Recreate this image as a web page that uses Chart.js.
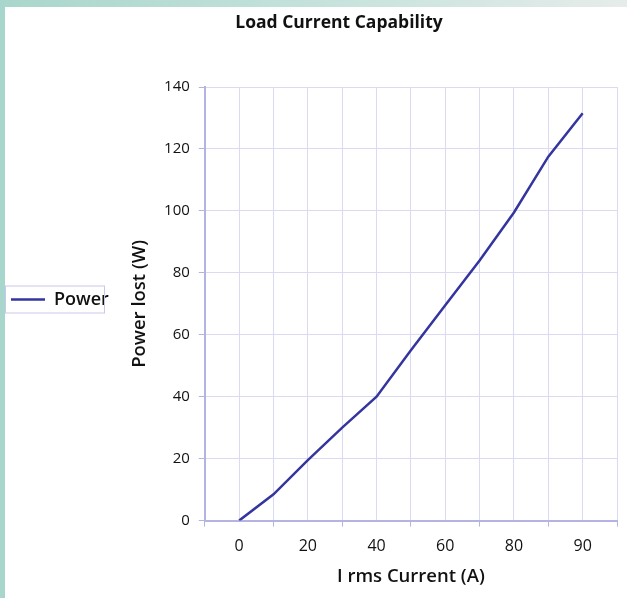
<!DOCTYPE html>
<html>
<head>
<meta charset="utf-8">
<script src="https://cdn.jsdelivr.net/npm/chart.js@4.4.0/dist/chart.umd.min.js"></script>
<style>
  body { margin: 0; background: #fff; }
  #page { position: relative; width: 627px; height: 598px; overflow: hidden; background: #fff; }
  #topStrip { position: absolute; left: 0; top: 0; width: 627px; height: 7px;
    background: linear-gradient(to right, #a9d6cc 0%, #c4e2db 50%, #e6ecea 100%); }
  #leftStrip { position: absolute; left: 0; top: 0; width: 5px; height: 598px; background: #a9d6cc; }
  #wrap { position: absolute; left: 5px; top: 7px; width: 622px; height: 591px; }
</style>
</head>
<body>
<div id="page">
  <div id="topStrip"></div>
  <div id="leftStrip"></div>
  <div id="wrap"><canvas id="lossChart"></canvas></div>
</div>
<script>
// categories (I rms, A) and power lost (W)
const currents = [0, 10, 20, 30, 40, 50, 60, 70, 80, 85, 90];
const powerLost = [0, 8.5, 19.5, 30, 40, 55, 69.5, 84, 99.5, 117.5, 131.5];
const yTicks = [0, 20, 40, 60, 80, 100, 120, 140];

// only every second category gets a label
const tickLabels = currents.filter((c, i) => i % 2 === 0);

const gridCol = '#dadaf2';
const axisCol = '#b4b4e2';
const lineCol = '#3535a0';
const font = '"Open Sans", "DejaVu Sans", sans-serif';

const points = powerLost.map((p, i) => ({ x: i, y: p }));

// the original title is a bit right of the page centre
const titleShift = {
  id: 'titleShift',
  afterLayout(chart) {
    const t = chart.titleBlock;
    if (t) { t.left += 26; t.right += 26; }
  }
};

const legendBox = {
  id: 'legendBox',
  afterDraw(chart) {
    const lg = chart.legend;
    if (!lg || !lg.legendHitBoxes.length) return;
    const hb = lg.legendHitBoxes[0];
    const ctx = chart.ctx;
    ctx.save();
    ctx.strokeStyle = '#c8c8ea';
    ctx.lineWidth = 1;
    ctx.strokeRect(0.5, hb.top - 4.5, 99, hb.height + 9);
    ctx.restore();
  }
};

new Chart(document.getElementById('lossChart'), {
  type: 'line',
  data: {
    datasets: [{
      label: 'Power',
      data: points,
      borderColor: lineCol,
      backgroundColor: lineCol,
      borderWidth: 2.5,
      pointRadius: 0,
      tension: 0
    }]
  },
  options: {
    responsive: true,
    maintainAspectRatio: false,
    animation: false,
    layout: { padding: { top: 0, right: 6, bottom: 6, left: 0 } },
    plugins: {
      title: {
        display: true,
        text: 'Load Current Capability',
        color: '#111',
        font: { family: font, size: 17.5, weight: 'bold' },
        padding: { top: 6, bottom: 53 }
      },
      legend: {
        position: 'left',
        labels: {
          usePointStyle: true,
          pointStyle: 'line',
          pointStyleWidth: 34,
          color: '#111',
          font: { family: font, size: 18, weight: '600' },
          padding: 6
        }
      },
      tooltip: { enabled: false }
    },
    scales: {
      x: {
        type: 'linear',
        min: -1,
        max: currents.length,
        ticks: {
          stepSize: 1,
          autoSkip: false,
          color: '#111',
          font: { family: font, size: 16 },
          padding: 10,
          callback: v => (v >= 0 && v % 2 === 0) ? tickLabels[v / 2] : ''
        },
        grid: {
          color: gridCol,
          tickLength: 6,
          tickColor: c => (Math.abs(c.tick.value) % 2 === 1) ? axisCol : 'rgba(0,0,0,0)'
        },
        border: { color: axisCol, width: 2 },
        title: {
          display: true,
          text: 'I rms Current (A)',
          color: '#111',
          font: { family: font, size: 18.5, weight: '600' },
          padding: { top: 0 }
        }
      },
      y: {
        min: yTicks[0],
        max: yTicks[yTicks.length - 1],
        afterBuildTicks: s => { s.ticks = yTicks.map(v => ({ value: v })); },
        ticks: {
          color: '#111',
          font: { family: font, size: 15 },
          padding: 9
        },
        grid: { color: gridCol, tickLength: 6, tickColor: axisCol },
        border: { color: axisCol, width: 2 },
        title: {
          display: true,
          text: 'Power lost (W)',
          color: '#111',
          font: { family: font, size: 18.5, weight: '600' },
          padding: { top: 10, bottom: 4 }
        }
      }
    }
  },
  plugins: [titleShift, legendBox]
});
</script>
</body>
</html>
